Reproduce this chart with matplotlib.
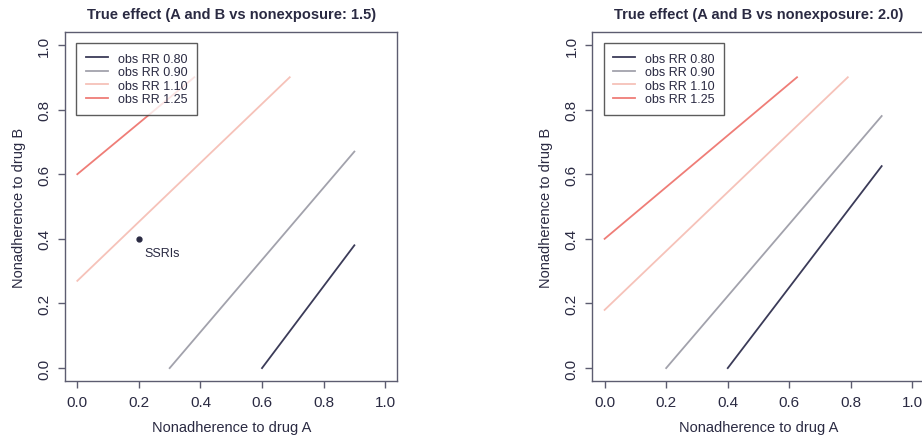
import matplotlib
matplotlib.use("Agg")
import matplotlib.pyplot as plt

plt.rcParams['font.family'] = ['Liberation Sans', 'DejaVu Sans']

# observed RR contour lines: endpoints (nonadherence A, nonadherence B)
rr_labels = ['obs RR 0.80', 'obs RR 0.90', 'obs RR 1.10', 'obs RR 1.25']
rr_colors = ['#3b3b58', '#a2a2ac', '#f6c2b9', '#ef7d77']

# true effect 1.5
x_15 = [[0.60, 0.90], [0.30, 0.90], [0.00, 0.69], [0.00, 0.38]]
y_15 = [[0.00, 0.38], [0.00, 0.67], [0.27, 0.90], [0.60, 0.90]]

# true effect 2.0
x_20 = [[0.40, 0.90], [0.20, 0.90], [0.00, 0.79], [0.00, 0.625]]
y_20 = [[0.00, 0.625], [0.00, 0.78], [0.18, 0.90], [0.40, 0.90]]

ssri_x, ssri_y = 0.2, 0.4

ticks = [0.0, 0.2, 0.4, 0.6, 0.8, 1.0]
txt = '#2a2a42'
axcol = '#5c5c70'

fig = plt.figure(figsize=(9.22, 4.39), dpi=100)
ax1 = fig.add_axes([0.0705, 0.1298, 0.3606, 0.795])
ax2 = fig.add_axes([0.6424, 0.1298, 0.3606, 0.795])


def panel(ax, xs, ys, title):
    for xv, yv, lab, c in zip(xs, ys, rr_labels, rr_colors):
        ax.plot(xv, yv, color=c, lw=1.3, label=lab)
    ax.set_xlim(-0.04, 1.04)
    ax.set_ylim(-0.04, 1.04)
    ax.set_xticks(ticks)
    ax.set_yticks(ticks)
    ax.set_xticklabels([f'{t:.1f}' for t in ticks])
    ax.set_yticklabels([f'{t:.1f}' for t in ticks], rotation=90, va='center')
    ax.tick_params(direction='out', length=5, width=1, colors=axcol,
                   labelcolor=txt, labelsize=11, pad=5)
    for s in ax.spines.values():
        s.set_color(axcol)
        s.set_linewidth(1)
    ax.set_title(title, fontsize=10.5, fontweight='bold', color=txt, pad=10)
    ax.set_xlabel('Nonadherence to drug A', fontsize=10.5, color=txt, labelpad=8)
    ax.set_ylabel('Nonadherence to drug B', fontsize=10.5, color=txt, labelpad=8)
    leg = ax.legend(loc='upper left', fontsize=9, frameon=True, fancybox=False,
                    edgecolor='#333333', handlelength=1.8, borderpad=0.75,
                    labelspacing=0.12, handletextpad=0.8,
                    borderaxespad=0.9)
    leg.get_frame().set_linewidth(1)
    for t in leg.get_texts():
        t.set_color(txt)


panel(ax1, x_15, y_15, 'True effect (A and B vs nonexposure: 1.5)')
panel(ax2, x_20, y_20, 'True effect (A and B vs nonexposure: 2.0)')

ax1.plot([ssri_x], [ssri_y], 'o', color=txt, ms=3.5)
ax1.annotate('SSRIs', (ssri_x, ssri_y), xytext=(4, -10), textcoords='offset points',
             fontsize=9, color=txt, ha='left', va='center')

fig.savefig('out.png', dpi=100)
